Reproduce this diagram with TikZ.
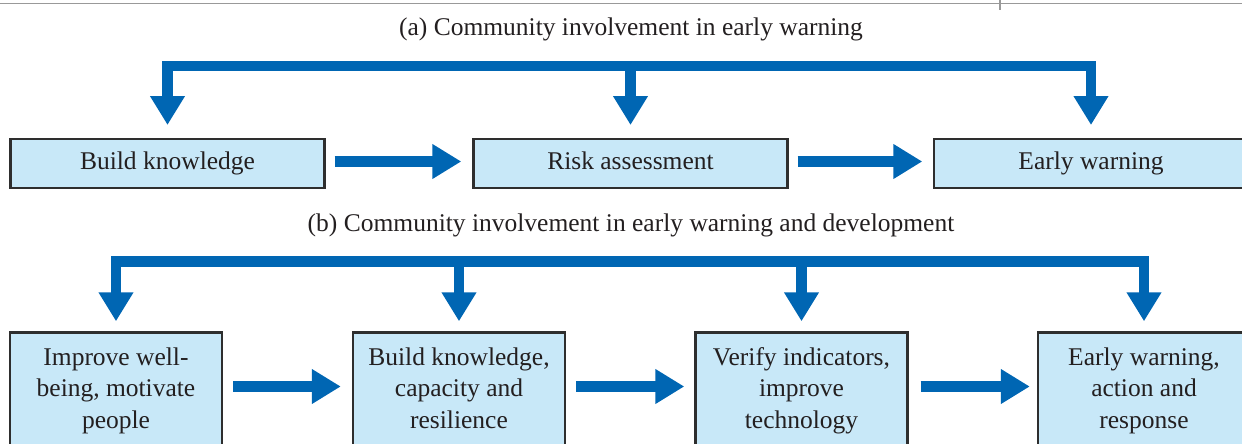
\documentclass[tikz,border=0pt]{standalone}
\usepackage{fontspec}
\setmainfont{Liberation Serif}
\usetikzlibrary{arrows.meta}
\definecolor{flowblue}{HTML}{0066B3}
\definecolor{boxfill}{HTML}{C8E8F8}
\definecolor{boxline}{HTML}{2E2E2E}
\definecolor{ink}{HTML}{231F20}

\begin{document}
\begin{tikzpicture}[x=1pt, y=-1pt,
	every node/.style={text=ink, font=\fontsize{25.5}{31.5}\selectfont},
	box/.style={draw=boxline, line width=2.4pt, fill=boxfill, inner sep=0pt, align=center},
	wide/.style={box, minimum width=314pt, minimum height=48.6pt, text height=17.5pt, text depth=5.5pt},
	tall/.style={box, minimum width=212pt, minimum height=120pt, execute at end node=\strut},
	>={Triangle[length=29pt, width=33pt]},
	bar/.style={draw=flowblue, line width=10.5pt},
	flow/.style={bar, ->}]
  \clip (0,0) rectangle (1242,444);
  \draw[gray!80, line width=1.4pt] (0,3.5) -- (1242,3.5) (1000,0) -- (1000,10);
  \coordinate (topA) at (0,66);
  \coordinate (topB) at (0,261.5);
  \node[anchor=base] (capA) at (631,36) {(a) Community involvement in early warning};
  \node[wide] (buildA) at (167.5,163.5) {Build knowledge};
  \node[wide] (riskA) at (630.5,163.5) {Risk assessment};
  \node[wide] (warnA) at (1091,163.5) {Early warning};
  \draw[flow, <->, shorten <=13pt, shorten >=13pt] (buildA.north) |- (warnA.north |- topA) -- (warnA.north);
  \draw[flow, shorten >=13pt] (riskA.north |- topA) -- (riskA.north);
  \draw[flow, shorten <=9pt, shorten >=11pt] ([yshift=2pt]buildA.east) -- ([yshift=2pt]riskA.west);
  \draw[flow, shorten <=9pt, shorten >=10.5pt] ([yshift=2pt]riskA.east) -- ([yshift=2pt]warnA.west);
  \node[anchor=base] (capB) at (631,231) {(b) Community involvement in early warning and development};
  \node[tall] (wellB) at (116,392.5) {Improve well-\\being, motivate\\people};
  \node[tall] (buildB) at (459,392.5) {Build knowledge,\\capacity and\\resilience};
  \node[tall] (verifyB) at (801.5,392.5) {Verify indicators,\\improve\\technology};
  \node[tall] (warnB) at (1144,392.5) {Early warning,\\action and\\response};
  \draw[flow, <->, shorten <=10pt, shorten >=10pt] (wellB.north) |- (warnB.north |- topB) -- (warnB.north);
  \draw[flow, shorten >=10pt] (buildB.north |- topB) -- (buildB.north);
  \draw[flow, shorten >=10pt] (verifyB.north |- topB) -- (verifyB.north);
  \draw[flow, shorten <=10pt, shorten >=11pt] ([yshift=6pt]wellB.east) -- ([yshift=6pt]buildB.west);
  \draw[flow, shorten <=10pt, shorten >=10pt] ([yshift=6pt]buildB.east) -- ([yshift=6pt]verifyB.west);
  \draw[flow, shorten <=12pt, shorten >=7pt] ([yshift=6pt]verifyB.east) -- ([yshift=6pt]warnB.west);
\end{tikzpicture}
\end{document}
